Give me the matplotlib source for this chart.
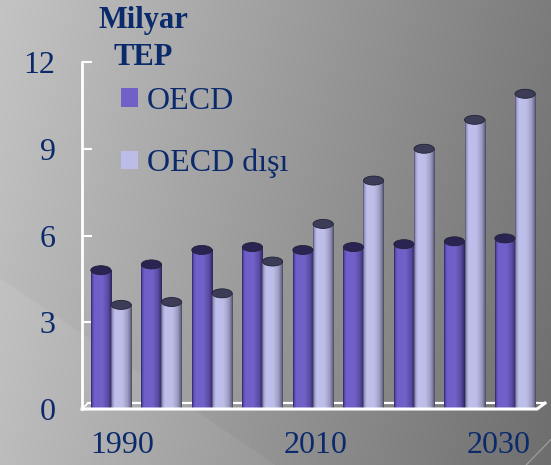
import numpy as np
import matplotlib
matplotlib.use('Agg')
import matplotlib.pyplot as plt
from matplotlib.patches import Ellipse, Patch
from matplotlib.colors import LinearSegmentedColormap
from matplotlib.transforms import ScaledTranslation

# ---- data ----
years = ['1990', '1995', '2000', '2005', '2010', '2015', '2020', '2025', '2030']
oecd = [4.8, 5.0, 5.5, 5.6, 5.5, 5.6, 5.7, 5.8, 5.9]
non_oecd = [3.6, 3.7, 4.0, 5.1, 6.4, 7.9, 9.0, 10.0, 10.9]
series_names = ['OECD', 'OECD dışı']
y_ticks = [0, 3, 6, 9, 12]
x_tick_years = ['1990', '2010', '2030']
title_lines = ['Milyar', 'TEP']

NAVY = '#0b2a6c'
C_OECD = '#7060c8'
C_NON = '#bcbce8'
plt.rcParams['font.family'] = ['Liberation Serif', 'DejaVu Serif']

fig = plt.figure(figsize=(5.51, 4.65), dpi=100)

# background gradient
bg = fig.add_axes([0, 0, 1, 1], zorder=-10)
bg.axis('off')
H, W = 465, 551
yy, xx = np.mgrid[0:1:H * 1j, 0:1:W * 1j]
v = (196 - 72 * xx - 14 * yy) / 255.0
wedge = (yy - 0.60) * W / H > xx * 0.95
v = np.where(wedge, v + 6 / 255.0, v)
bg.imshow(np.dstack([v, v, v]), extent=(0, 1, 0, 1), aspect='auto', origin='upper')
bg.plot([0.955, 1.0], [0.0, 0.055], color='#b8b8b8', lw=0.8, alpha=0.7)
bg.set_xlim(0, 1)
bg.set_ylim(0, 1)

ax = fig.add_axes([82 / 551, 1 - 409 / 465, 463 / 551, 347 / 465])
ax.patch.set_alpha(0)

x = np.arange(len(years))
w = 0.40
bars1 = ax.bar(x - w / 2, oecd, w, color=C_OECD, zorder=3, linewidth=0)
bars2 = ax.bar(x + w / 2, non_oecd, w, color=C_NON, zorder=3, linewidth=0)

cm1 = LinearSegmentedColormap.from_list('c1', [
    (0.0, '#2a2358'), (0.07, '#5a4cb2'), (0.16, '#6f5fca'), (0.55, '#7161c8'),
    (0.80, '#5b4da8'), (0.94, '#3e3478'), (1.0, '#28214e')])
cm2 = LinearSegmentedColormap.from_list('c2', [
    (0.0, '#4a4a68'), (0.07, '#9a9ac8'), (0.18, '#bfbfec'), (0.55, '#bdbde8'),
    (0.80, '#9c9cc2'), (0.94, '#6c6c8a'), (1.0, '#44445c')])
top1 = '#2a2452'
top2 = '#3c3c56'
grad = np.linspace(0, 1, 128).reshape(1, -1)
eh = 9 / 28.9
for bars, cm, tc in ((bars1, cm1, top1), (bars2, cm2, top2)):
    for b in bars:
        x0, bw, h = b.get_x(), b.get_width(), b.get_height()
        ax.imshow(grad, cmap=cm, extent=(x0, x0 + bw, 0, h), aspect='auto',
                  zorder=3, interpolation='bilinear')
        ax.add_patch(Ellipse((x0 + bw / 2, h), bw, eh, facecolor=tc,
                             edgecolor='#222238', lw=0.6, zorder=4))

ax.set_xlim(-0.574, 8.594)
ax.set_ylim(0, 12)
ax.set_aspect('auto')

# floor
T = ax.transAxes
ax.plot([0.013, 1.0], [0.017, 0.017], color='white', lw=1.6, transform=T, zorder=2, clip_on=False)
ax.plot([0, 0.013], [0, 0.017], color='white', lw=1.2, transform=T, zorder=2, clip_on=False)
ax.plot([0, 0.983, 1.0], [0, 0, 0.017], color='white', lw=2.2, transform=T, zorder=5, clip_on=False)

for s in ['top', 'right', 'bottom']:
    ax.spines[s].set_visible(False)
ax.spines['left'].set_color('white')
ax.spines['left'].set_linewidth(2)

ax.set_yticks(y_ticks)
ax.tick_params(axis='y', direction='in', length=7, width=1.5, color='white',
               labelsize=23, labelcolor=NAVY, pad=19)
xt = [years.index(yv) for yv in x_tick_years]
ax.set_xticks(xt, x_tick_years)
ax.tick_params(axis='x', length=0, labelsize=23, labelcolor=NAVY, pad=16)
for lab, dx in zip(ax.get_xticklabels(), [11, 3, -16]):
    lab.set_transform(lab.get_transform() + ScaledTranslation(dx / 100, 0, fig.dpi_scale_trans))

fig.text(143 / 551, 1 - 28 / 465, title_lines[0], ha='center', va='baseline', color=NAVY,
         fontsize=22, fontweight='bold')
fig.text(143 / 551, 1 - 65 / 465, title_lines[1], ha='center', va='baseline', color=NAVY,
         fontsize=22, fontweight='bold')

handles = [Patch(facecolor=C_OECD), Patch(facecolor=C_NON)]
leg = ax.legend(handles, series_names, loc='upper left', bbox_to_anchor=(121 / 551, 1 - 87 / 465),
                bbox_transform=fig.transFigure, frameon=False, fontsize=23,
                handlelength=0.52, handleheight=0.52, handletextpad=0.3,
                labelspacing=1.03, borderpad=0, borderaxespad=0)
for t in leg.get_texts():
    t.set_color(NAVY)

fig.savefig('out.png', dpi=100)
